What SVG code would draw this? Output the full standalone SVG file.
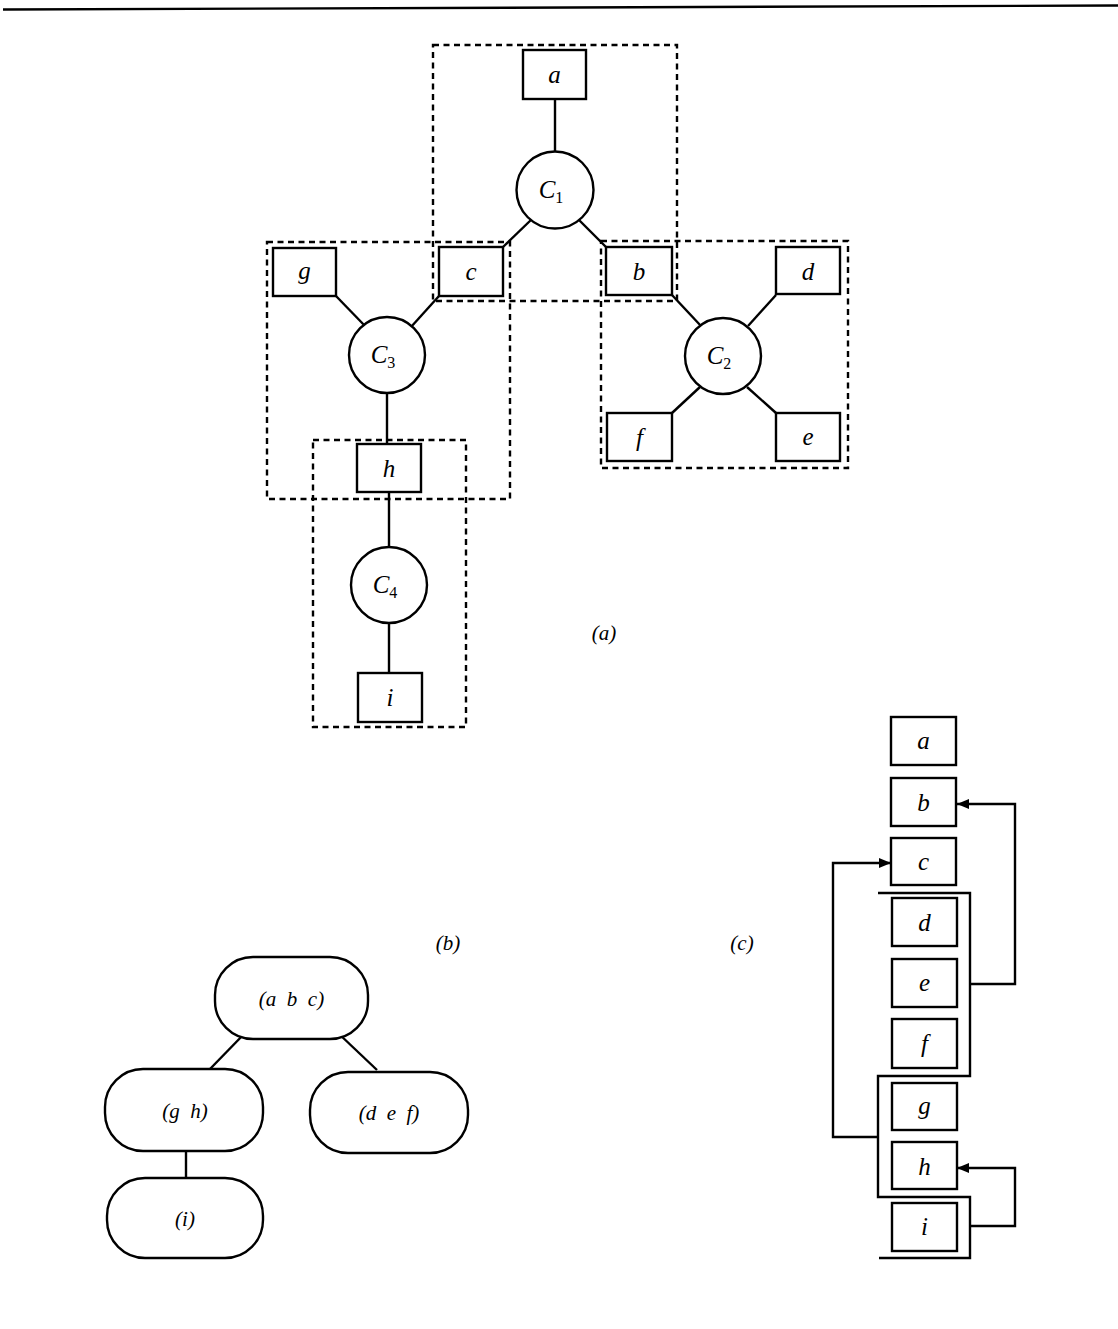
<svg xmlns="http://www.w3.org/2000/svg" width="1118" height="1329" viewBox="0 0 1118 1329">
<defs>
<style>
.box{fill:#fff;stroke:#000;stroke-width:2.4}
.cl{fill:#fff;stroke:#000;stroke-width:2.4}
.dash{fill:none;stroke:#000;stroke-width:2.4;stroke-dasharray:6 4.5}
.ln{fill:none;stroke:#000;stroke-width:2.4}
.rr{fill:#fff;stroke:#000;stroke-width:2.4}
text{font-family:"Liberation Serif","DejaVu Serif",serif;font-style:italic;fill:#000;text-anchor:middle;white-space:pre}
.t{font-size:25px}
.s{font-size:16px;font-style:normal}
.lb{font-size:21px}
.nt{font-size:21px}
</style>
<marker id="ah" viewBox="0 0 12 10" refX="12" refY="5" markerWidth="12" markerHeight="10" markerUnits="userSpaceOnUse" orient="auto">
<path d="M0,0 L12,5 L0,10 z" fill="#000"/>
</marker>
</defs>
<rect width="1118" height="1329" fill="#fff"/>
<line x1="3" y1="9.5" x2="1118" y2="5.5" stroke="#000" stroke-width="2.4"/>

<!-- (a) dashed clusters -->
<g id="clusters">
<rect class="dash" x="433" y="45" width="244" height="256"/>
<rect class="dash" x="267" y="242" width="243" height="257"/>
<rect class="dash" x="601" y="241" width="247" height="227"/>
<rect class="dash" x="313" y="440" width="153" height="287"/>
</g>

<g id="connectors">
<line class="ln" x1="555" y1="99" x2="555" y2="151"/>
<line class="ln" x1="532" y1="219" x2="503" y2="247"/>
<line class="ln" x1="578" y1="219" x2="606" y2="247"/>
<line class="ln" x1="336" y1="296" x2="366" y2="327"/>
<line class="ln" x1="439" y1="296" x2="411" y2="327"/>
<line class="ln" x1="387" y1="393" x2="387" y2="444"/>
<line class="ln" x1="389" y1="492" x2="389" y2="547"/>
<line class="ln" x1="389" y1="623" x2="389" y2="673"/>
<line class="ln" x1="672" y1="295" x2="701" y2="326"/>
<line class="ln" x1="776" y1="295" x2="748" y2="326"/>
<line class="ln" x1="672" y1="413" x2="700" y2="387"/>
<line class="ln" x1="776" y1="413" x2="747" y2="387"/>
<!-- (b) -->
<line class="ln" x1="245" y1="1033" x2="210" y2="1069"/>
<line class="ln" x1="338" y1="1033" x2="377" y2="1070"/>
<line class="ln" x1="186" y1="1151" x2="186" y2="1178"/>
<!-- (c) -->
<path class="ln" d="M878,893 H970 V1076 H878 V1197 H970 V1258 H879"/>
<path class="ln" d="M970,984 H1015 V804 H957" marker-end="url(#ah)"/>
<path class="ln" d="M878,1137 H833 V863 H891" marker-end="url(#ah)"/>
<path class="ln" d="M970,1226 H1015 V1168 H957" marker-end="url(#ah)"/>
</g>

<!-- (a) nodes -->
<g id="a-a"><rect class="box" x="523" y="50" width="63" height="49"/><text class="t" x="554.5" y="83">a</text></g>
<g id="a-C1"><circle class="cl" cx="555" cy="190" r="38.5"/><text class="t" x="551" y="198">C<tspan class="s" dy="5">1</tspan></text></g>
<g id="a-c"><rect class="box" x="439" y="247" width="64" height="49"/><text class="t" x="471" y="280">c</text></g>
<g id="a-b"><rect class="box" x="606" y="247" width="66" height="48"/><text class="t" x="639" y="280">b</text></g>
<g id="a-g"><rect class="box" x="273" y="248" width="63" height="48"/><text class="t" x="304.5" y="279">g</text></g>
<g id="a-d"><rect class="box" x="776" y="247" width="64" height="47"/><text class="t" x="808" y="280">d</text></g>
<g id="a-C3"><circle class="cl" cx="387" cy="355" r="38"/><text class="t" x="383" y="363">C<tspan class="s" dy="5">3</tspan></text></g>
<g id="a-C2"><circle class="cl" cx="723" cy="356" r="38"/><text class="t" x="719" y="364">C<tspan class="s" dy="5">2</tspan></text></g>
<g id="a-f"><rect class="box" x="607" y="413" width="65" height="48"/><text class="t" x="639.5" y="446">f</text></g>
<g id="a-e"><rect class="box" x="776" y="413" width="64" height="48"/><text class="t" x="808" y="445">e</text></g>
<g id="a-h"><rect class="box" x="357" y="444" width="64" height="48"/><text class="t" x="389" y="477">h</text></g>
<g id="a-C4"><circle class="cl" cx="389" cy="585" r="38"/><text class="t" x="385" y="593">C<tspan class="s" dy="5">4</tspan></text></g>
<g id="a-i"><rect class="box" x="358" y="673" width="64" height="49"/><text class="t" x="390" y="706">i</text></g>
<text class="lb" x="604" y="640">(a)</text>

<!-- (b) nodes -->
<g id="b-abc"><rect class="rr" x="215" y="957" width="153" height="82" rx="38" ry="38"/><text class="nt" x="291.5" y="1006" xml:space="preserve">(a  b  c)</text></g>
<g id="b-gh"><rect class="rr" x="105" y="1069" width="158" height="82" rx="38" ry="38"/><text class="nt" x="185" y="1118" xml:space="preserve">(g  h)</text></g>
<g id="b-def"><rect class="rr" x="310" y="1072" width="158" height="81" rx="38" ry="38"/><text class="nt" x="389" y="1120" xml:space="preserve">(d  e  f)</text></g>
<g id="b-i"><rect class="rr" x="107" y="1178" width="156" height="80" rx="38" ry="38"/><text class="nt" x="185" y="1226">(i)</text></g>
<text class="lb" x="448" y="950">(b)</text>

<!-- (c) nodes -->
<g id="c-a"><rect class="box" x="891" y="717" width="65" height="48"/><text class="t" x="923.5" y="749">a</text></g>
<g id="c-b"><rect class="box" x="891" y="778" width="65" height="48"/><text class="t" x="923.5" y="811">b</text></g>
<g id="c-c"><rect class="box" x="891" y="838" width="65" height="47"/><text class="t" x="923.5" y="870">c</text></g>
<g id="c-d"><rect class="box" x="892" y="898" width="65" height="48"/><text class="t" x="924.5" y="931">d</text></g>
<g id="c-e"><rect class="box" x="892" y="959" width="65" height="48"/><text class="t" x="924.5" y="991">e</text></g>
<g id="c-f"><rect class="box" x="892" y="1019" width="65" height="49"/><text class="t" x="924.5" y="1052">f</text></g>
<g id="c-g"><rect class="box" x="892" y="1083" width="65" height="47"/><text class="t" x="924.5" y="1114">g</text></g>
<g id="c-h"><rect class="box" x="892" y="1142" width="65" height="47"/><text class="t" x="924.5" y="1175">h</text></g>
<g id="c-i"><rect class="box" x="892" y="1203" width="65" height="48"/><text class="t" x="924.5" y="1235">i</text></g>
<text class="lb" x="742" y="950">(c)</text>
</svg>
